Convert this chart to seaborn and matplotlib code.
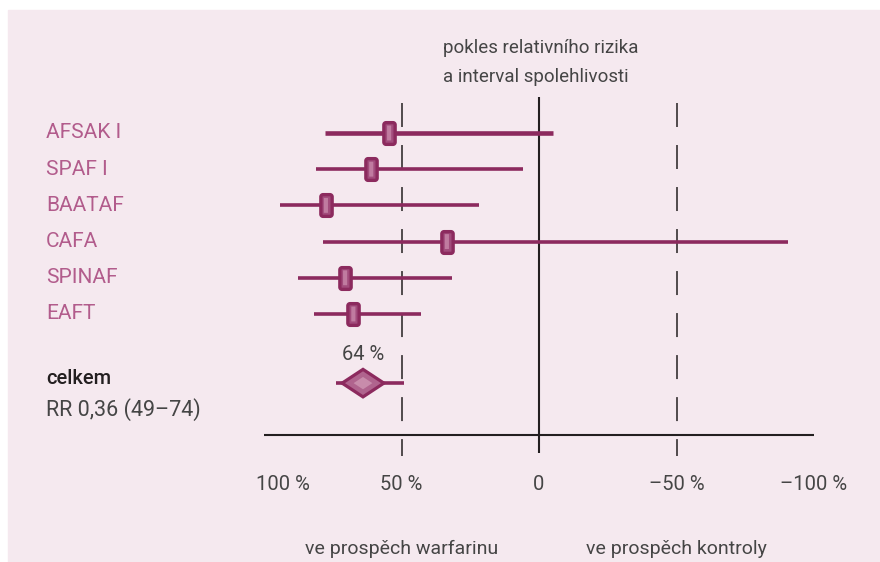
import numpy as np
import pandas as pd
import seaborn as sns
import matplotlib.pyplot as plt
import matplotlib.transforms as mtransforms
from matplotlib.path import Path
from matplotlib.markers import MarkerStyle
from matplotlib.patches import Rectangle, Polygon

# data (relative risk reduction, %)
studies = ["AFSAK I", "SPAF I", "BAATAF", "CAFA", "SPINAF", "EAFT"]
rrr = [54.5, 61.0, 77.5, 33.5, 70.5, 67.5]
ci_upper = [78.0, 81.0, 94.0, 78.5, 87.5, 82.0]
ci_lower = [-5.0, 6.0, 22.0, -90.5, 31.5, 43.0]
overall = 64
overall_ci = [74, 49]
overall_label = "64 %"
summary_text = ["celkem", "RR 0,36 (49–74)"]
ticks = [100, 50, 0, -50, -100]
tick_labels = ["100 %", "50 %", "0", "–50 %", "–100 %"]
header = ["pokles relativního rizika", "a interval spolehlivosti"]
sides = ["ve prospěch warfarinu", "ve prospěch kontroly"]

purple = "#8c2a5e"
light = "#c07ba0"
pink_txt = "#b25c8c"
bg = "#f5e9ef"
dark = "#231f20"
grey = "#454545"

sns.set_theme(style="white")
plt.rcParams['font.family'] = ['Roboto', 'DejaVu Sans']

fig = plt.figure(figsize=(8.8, 5.62), dpi=100)
fig.patches.append(Rectangle((8 / 880, 0), 1, 1 - 10 / 562, transform=fig.transFigure,
                             color=bg, zorder=-10))

# axes placed so that 100 % .. -100 % spans the axis line
ax = fig.add_axes([264 / 880, 1 - 456 / 562, 550 / 880, (456 - 97) / 562])
ax.set_xlim(100, -100)
ax.set_ylim(8.923, -0.994)
ax.axis('off')
ax.patch.set_alpha(0)

df = pd.DataFrame({"study": studies, "rrr": rrr, "hi": ci_upper, "lo": ci_lower})
df["row"] = np.arange(len(df))
overall_row = 6.91

# reference lines
ax.vlines(0, -0.994, 8.84, color=dark, lw=1.5, zorder=1)
ax.vlines([50, -50], -0.83, 8.923, color=dark, lw=1.1,
          linestyles=[(0, (15.7, 11.8))], zorder=1)
ax.hlines(8.343, ticks[0], ticks[-1], color=dark, lw=1.5, zorder=1)

# confidence intervals
line_w = [3.3, 2.6, 2.6, 2.6, 2.6, 2.6]
for _, r in df.iterrows():
    ax.hlines(r["row"], r["hi"], r["lo"], color=purple, lw=line_w[int(r["row"])], zorder=2)


def rounded_rect(hw, hh, rad, n=8):
    pts = []
    for cx, cy, a0 in [(hw - rad, hh - rad, 0), (-hw + rad, hh - rad, 90),
                       (-hw + rad, -hh + rad, 180), (hw - rad, -hh + rad, 270)]:
        for a in np.linspace(a0, a0 + 90, n):
            pts.append((cx + rad * np.cos(np.radians(a)), cy + rad * np.sin(np.radians(a))))
    pts.append(pts[0])
    return Path(pts, closed=True)


box = MarkerStyle(rounded_rect(0.26, 0.5, 0.1))
stripe = MarkerStyle(rounded_rect(0.14, 0.5, 0.02))
sns.scatterplot(data=df, x="rrr", y="row", marker=box, s=245, color="#a24c7c",
                edgecolor=purple, linewidth=2.4, ax=ax, zorder=3, legend=False)
sns.scatterplot(data=df, x="rrr", y="row", marker=stripe, s=115, color=light,
                edgecolor="none", ax=ax, zorder=4, legend=False)
ax.set_xlabel("")
ax.set_ylabel("")

# overall estimate
ax.hlines(overall_row, overall_ci[0], overall_ci[1], color=purple, lw=2.6, zorder=2)
hw, hh = 7.6, 0.38
ax.add_patch(Polygon([(overall + hw, overall_row), (overall, overall_row - hh),
                      (overall - hw, overall_row), (overall, overall_row + hh)],
                     closed=True, facecolor="#b0648e", edgecolor=purple, lw=2.3, zorder=3))
ax.add_patch(Polygon([(overall + hw * 0.45, overall_row), (overall, overall_row - hh * 0.45),
                      (overall - hw * 0.45, overall_row), (overall, overall_row + hh * 0.45)],
                     closed=True, facecolor="#c88cab", edgecolor="none", zorder=4))
ax.text(overall, 6.13, overall_label, ha="center", va="center", fontsize=14.5, color=grey)

# labels on the left
lt = mtransforms.blended_transform_factory(fig.transFigure, ax.transData)
for i, name in enumerate(studies):
    ax.text(46 / 880, i, name, transform=lt, ha="left", va="center",
            fontsize=15, color=pink_txt, clip_on=False)
ax.text(46 / 880, 6.77, summary_text[0], transform=lt, ha="left", va="center",
        fontsize=14.5, color=dark, fontweight="medium", clip_on=False)
ax.text(46 / 880, 7.65, summary_text[1], transform=lt, ha="left", va="center",
        fontsize=15.5, color=grey, clip_on=False)

# tick labels
for k, (t, lab) in enumerate(zip(ticks, tick_labels)):
    tr = ax.transData
    if k == 0:
        tr = tr + mtransforms.ScaledTranslation(19 / 100, 0, fig.dpi_scale_trans)
    ax.text(t, 9.72, lab, transform=tr, ha="center", va="center",
            fontsize=14.5, color=grey, clip_on=False)

# header and side captions
for j, line in enumerate(header):
    fig.text(443 / 880, 1 - (48 + 29 * j) / 562, line, ha="left", va="center",
             fontsize=13.5, color=grey)
for x, s in zip([50, -50], sides):
    ax.text(x, 11.5, s, ha="center", va="center", fontsize=14, color=grey, clip_on=False)

fig.savefig("out.png", dpi=100)
